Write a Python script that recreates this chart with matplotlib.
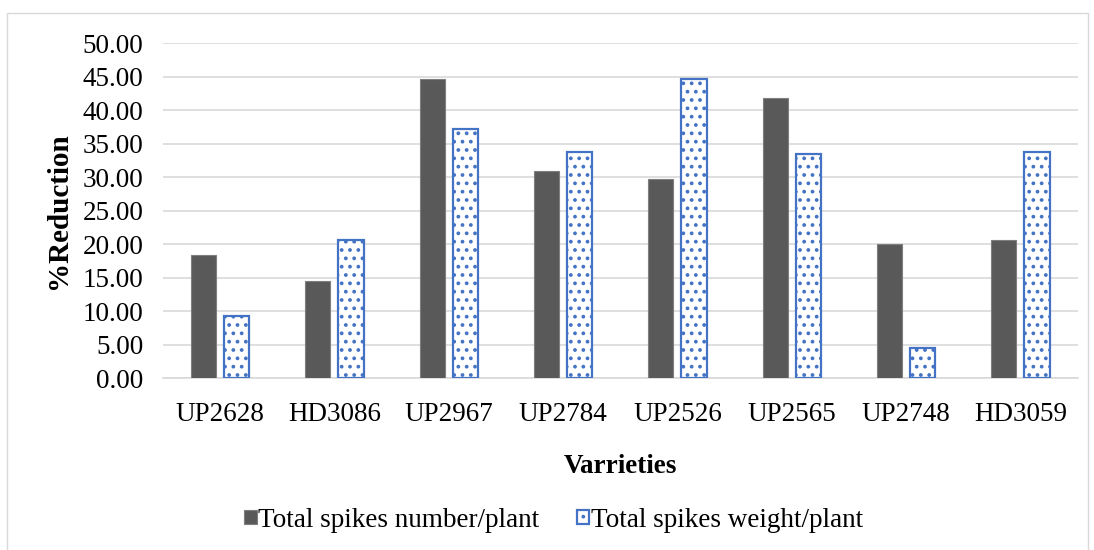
import matplotlib
matplotlib.use("Agg")
import matplotlib.pyplot as plt
import numpy as np
from matplotlib.patches import Rectangle

varieties = ["UP2628", "HD3086", "UP2967", "UP2784", "UP2526", "UP2565", "UP2748", "HD3059"]
spikes_number = [18.3, 14.5, 44.6, 30.9, 29.7, 41.8, 20.0, 20.6]
spikes_weight = [9.25, 20.6, 37.2, 33.7, 44.6, 33.4, 4.5, 33.7]
y_ticks = [0, 5, 10, 15, 20, 25, 30, 35, 40, 45, 50]

plt.rcParams["font.family"] = ["Liberation Serif", "DejaVu Serif"]
plt.rcParams["hatch.color"] = "#9DB6E4"
plt.rcParams["hatch.linewidth"] = 1.5

fig = plt.figure(figsize=(10.94, 5.5), dpi=100)
ax = fig.add_axes([0.149, 0.3127, 0.836, 0.6091])

# outer chart-area frame
fig.patches.append(Rectangle((7 / 1094, -0.01), 1081 / 1094, 1 - 13 / 550 + 0.01,
                             transform=fig.transFigure, fill=False,
                             edgecolor="#D9D9D9", linewidth=1.0))

x = np.arange(len(varieties))
w = 0.22
off = 0.145
ax.bar(x - off, spikes_number, width=w, color="#595959", edgecolor="#7F7F7F",
       linewidth=0.8, label="Total spikes number/plant", zorder=3)
ax.bar(x + off, spikes_weight, width=w, color="white", edgecolor="#4472C4",
       hatch="..", linewidth=1.6, label="Total spikes weight/plant", zorder=3)

ax.set_xlim(-0.5, len(varieties) - 0.5)
ax.set_ylim(0, 50)
ax.set_yticks(y_ticks)
ax.set_yticklabels([f"{v:.2f}" for v in y_ticks])
ax.set_xticks(x)
ax.set_xticklabels(varieties)
ax.tick_params(axis="both", length=0, labelsize=19.5, colors="black")
ax.tick_params(axis="y", pad=14)
ax.tick_params(axis="x", pad=17)

ax.grid(axis="y", color="#D9D9D9", linewidth=1.2, zorder=0)
for s in ["top", "right", "left"]:
    ax.spines[s].set_visible(False)
ax.spines["bottom"].set_color("#D9D9D9")
ax.spines["bottom"].set_linewidth(1.2)

ax.set_ylabel("%Reduction", fontsize=21, fontweight="bold", labelpad=8)
ax.set_xlabel("Varrieties", fontsize=19.5, fontweight="bold", labelpad=20)

leg = fig.legend(loc="center", bbox_to_anchor=(0.506, 0.054),
                 ncol=2, frameon=False, fontsize=19.5, handlelength=0.45,
                 handleheight=0.45, handletextpad=0.05, columnspacing=1.4)

fig.savefig("out.png", dpi=100)
